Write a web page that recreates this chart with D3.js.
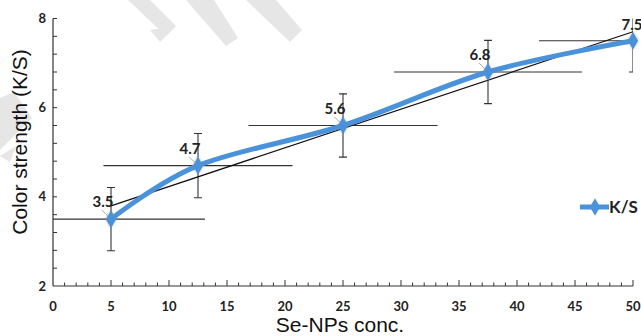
<meta charset="utf-8">
<title>Color strength vs Se-NPs conc.</title>
<body style="margin:0;background:#fff">
<script src="https://cdnjs.cloudflare.com/ajax/libs/d3/7.8.5/d3.min.js"></script>
<script>
// data
var conc   = [5, 12.5, 25, 37.5, 50];          // Se-NPs conc.
var ks     = [3.5, 4.7, 5.6, 6.8, 7.5];        // K/S
var yErr   = [0.71, 0.72, 0.71, 0.71, 0.7];    // vertical error
var xErr   = [8.1, 8.15, 8.15, 8.1, 8.1];      // horizontal error
var xTicks = [0, 5, 10, 15, 20, 25, 30, 35, 40, 45, 50];
var yTicks = [2, 4, 6, 8];

var width = 641, height = 336;
var blue = '#4a92da', dark = '#333';

var x = d3.scaleLinear().domain([0, 50]).range([53, 633]);
var y = d3.scaleLinear().domain([2, 8]).range([286, 18.5]);

var svg = d3.select('body').append('svg')
    .attr('width', width)
    .attr('height', height)
    .style('display', 'block');

// faint watermark shapes
var wm = [
  [[128,0],[150,0],[176,26],[166,36]],
  [[150,30],[176,26],[160,42]],
  [[186,0],[214,0],[238,38],[226,46]],
  [[246,0],[276,0],[302,30],[290,42]],
  [[0,98],[14,92],[32,118],[0,150]],
  [[0,156],[16,146],[10,162]]
];
svg.selectAll('polygon.wm').data(wm).enter().append('polygon')
    .attr('class', 'wm')
    .attr('points', function(d) { return d.join(' '); })
    .style('fill', '#e6e6e6');

var defs = svg.append('defs');
defs.append('clipPath').attr('id', 'plot')
  .append('rect').attr('x', x(0)).attr('y', y(8)).attr('width', x(50) - x(0)).attr('height', y(2) - y(8));
var f = defs.append('filter').attr('id', 'glow').attr('x', '-50%').attr('y', '-50%').attr('width', '200%').attr('height', '200%');
f.append('feDropShadow').attr('dx', 0).attr('dy', 0).attr('stdDeviation', 1.5).attr('flood-color', '#888').attr('flood-opacity', 0.6);

//axes==============================================================
var axes = svg.append('g').style('stroke', dark).style('fill', 'none').style('stroke-width', 1.2);
axes.append('line').attr('x1', x(0)).attr('x2', x(0)).attr('y1', y(8)).attr('y2', y(2));
axes.append('line').attr('x1', x(0)).attr('x2', x(50)).attr('y1', y(2)).attr('y2', y(2));

// y ticks every 0.4, pointing inward
for (var v = 2.4; v <= 8.001; v += 0.4) {
  axes.append('line').attr('x1', x(0)).attr('x2', x(0) + 4)
      .attr('y1', y(v)).attr('y2', y(v)).style('stroke-width', 1);
}
// x ticks every 1, majors every 5
for (var t = 1; t <= 50; t++) {
  var len = (t % 5 === 0) ? 6 : 3.5;
  axes.append('line').attr('x1', x(t)).attr('x2', x(t))
      .attr('y1', y(2)).attr('y2', y(2) - len).style('stroke-width', 1);
}

svg.selectAll('text.xt').data(xTicks).enter().append('text')
    .attr('class', 'xt')
    .attr('x', function(d) { return x(d); })
    .attr('y', 311)
    .attr('text-anchor', 'middle')
    .style('font', '700 13px Lato')
    .style('fill', '#222')
    .text(function(d) { return d; });

svg.selectAll('text.yt').data(yTicks).enter().append('text')
    .attr('class', 'yt')
    .attr('x', 46)
    .attr('y', function(d) { return y(d) + 4.5; })
    .attr('text-anchor', 'end')
    .style('font', '700 13px Lato')
    .style('fill', '#222')
    .text(function(d) { return d; });

svg.append('text')
    .attr('transform', 'translate(27,142) rotate(-90)')
    .attr('text-anchor', 'middle')
    .style('font', '21px "Liberation Sans"')
    .style('fill', '#111')
    .text('Color strength (K/S)');

svg.append('text')
    .attr('x', 340).attr('y', 332)
    .attr('text-anchor', 'middle')
    .style('font', '21px "Liberation Sans"')
    .style('fill', '#111')
    .text('Se-NPs conc.');

//error bars========================================================
var eb = svg.append('g').attr('clip-path', 'url(#plot)')
    .style('stroke', dark).style('stroke-width', 1.1);
for (var i = 0; i < conc.length; i++) {
  var cx = x(conc[i]), cy = y(ks[i]);
  eb.append('line').attr('x1', x(conc[i] - xErr[i])).attr('x2', x(conc[i] + xErr[i]))
      .attr('y1', cy).attr('y2', cy);
  eb.append('line').attr('x1', cx).attr('x2', cx)
      .attr('y1', y(ks[i] + yErr[i])).attr('y2', y(ks[i] - yErr[i]));
  [ks[i] + yErr[i], ks[i] - yErr[i]].forEach(function(e) {
    eb.append('line').attr('x1', cx - 4).attr('x2', cx + 4).attr('y1', y(e)).attr('y2', y(e));
  });
}

//linear trend line=================================================
var mx = d3.mean(conc), my = d3.mean(ks);
var slope = d3.sum(conc, function(d, i) { return (d - mx) * (ks[i] - my); }) /
            d3.sum(conc, function(d) { return (d - mx) * (d - mx); });
var icpt = my - slope * mx;
svg.append('line')
    .attr('x1', x(conc[0])).attr('y1', y(icpt + slope * conc[0]))
    .attr('x2', x(conc[4])).attr('y2', y(icpt + slope * conc[4]))
    .style('stroke', '#111').style('stroke-width', 1.2);

//smoothed series===================================================
var line = d3.line()
    .curve(d3.curveCatmullRom.alpha(0))
    .x(function(d, i) { return x(conc[i]); })
    .y(function(d) { return y(d); });

svg.append('path')
    .datum(ks)
    .attr('d', line)
    .style('fill', 'none')
    .style('stroke', blue)
    .style('stroke-width', 5)
    .style('stroke-linejoin', 'round');

var diamond = d3.symbol().type(d3.symbolDiamond).size(90);
svg.selectAll('path.mk').data(ks).enter().append('path')
    .attr('class', 'mk')
    .attr('d', diamond)
    .attr('transform', function(d, i) { return 'translate(' + x(conc[i]) + ',' + y(d) + ')'; })
    .attr('filter', 'url(#glow)')
    .style('fill', blue);

//data labels=======================================================
svg.selectAll('line.ld').data(ks.slice(0, 4)).enter().append('line')
    .attr('class', 'ld')
    .attr('x1', function(d, i) { return x(conc[i]) - 9; })
    .attr('y1', function(d) { return y(d) - 9; })
    .attr('x2', function(d, i) { return x(conc[i]) - 3; })
    .attr('y2', function(d) { return y(d) - 3; })
    .style('stroke', '#aaa').style('stroke-width', 1);

svg.selectAll('text.dl').data(ks).enter().append('text')
    .attr('class', 'dl')
    .attr('x', function(d, i) { return i === 4 ? x(conc[i]) - 1 : x(conc[i]) - 8; })
    .attr('y', function(d, i) { return y(d) - (i === 4 ? 11 : 12); })
    .attr('text-anchor', 'middle')
    .style('font', '700 15px Lato')
    .style('fill', '#222')
    .text(function(d) { return d.toFixed(1); });

//legend============================================================
svg.append('line')
    .attr('x1', 580).attr('x2', 609).attr('y1', 207).attr('y2', 207)
    .style('stroke', blue).style('stroke-width', 5);
svg.append('path')
    .attr('d', diamond)
    .attr('transform', 'translate(595,207)')
    .style('fill', blue);
svg.append('text')
    .attr('x', 609).attr('y', 213)
    .style('font', '700 17px Lato')
    .style('fill', '#222')
    .text('K/S');
</script>
</body>
